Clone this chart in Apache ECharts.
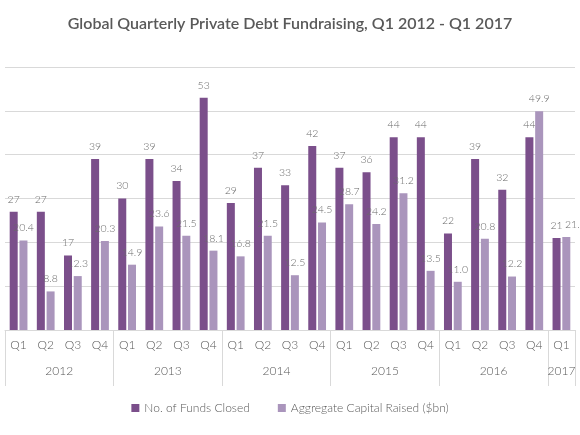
<!DOCTYPE html>
<html><head><meta charset="utf-8">
<script src="https://cdn.jsdelivr.net/npm/echarts@6/dist/echarts.min.js"></script>
<style>html,body{margin:0;padding:0;background:#fff}#c{width:580px;height:435px}</style>
</head><body><div id="c"></div>
<script>
var quarters = ['Q1','Q2','Q3','Q4','Q1','Q2','Q3','Q4','Q1','Q2','Q3','Q4','Q1','Q2','Q3','Q4','Q1','Q2','Q3','Q4','Q1'];
var years = ['2012','2013','2014','2015','2016','2017'];
var yearCenters = [2, 6, 10, 14, 18, 20.5];
var yearBounds = [0, 4, 8, 12, 16, 20, 21];
var fundsClosed = [27,27,17,39, 30,39,34,53, 29,37,33,42, 37,36,44,44, 22,39,32,44, 21];
var capitalRaised = [20.4,8.8,12.3,20.3, 14.9,23.6,21.5,18.1, 16.8,21.5,12.5,24.5, 28.7,24.2,31.2,13.5, 11.0,20.8,12.2,49.9, 21.2];

var font = 'Lato';
var txt = '#595959';
var lbl = '#6a6a6a';
var capData = capitalRaised.map(function (v, i) {
  return i === capitalRaised.length - 1 ? {value: v, label: {offset: [9, 0]}} : v;
});
var chart = echarts.init(document.getElementById('c'));
chart.setOption({
  animation: false,
  title: {
    text: 'Global Quarterly Private Debt Fundraising, Q1 2012 - Q1 2017',
    left: 'center', top: 11,
    textStyle: {fontFamily: font, fontSize: 16, fontWeight: 600, color: txt}
  },
  legend: {
    bottom: 16, left: 'center', itemWidth: 8, itemHeight: 8, itemGap: 28,
    icon: 'rect',
    textStyle: {fontFamily: font, fontSize: 12, fontWeight: 300, color: txt}
  },
  grid: {left: 5, right: 5, top: 67, bottom: 105, containLabel: false},
  xAxis: [{
    type: 'category', data: quarters, position: 'bottom',
    axisLine: {show: true, lineStyle: {color: '#d9d9d9', width: 1}},
    axisTick: {show: false},
    axisLabel: {fontFamily: font, fontSize: 12, fontWeight: 300, color: txt, margin: 9, interval: 0}
  }, {
    type: 'value', min: 0, max: 21, position: 'bottom',
    axisLine: {show: false},
    splitLine: {show: false},
    axisTick: {show: true, customValues: yearBounds, length: 56, lineStyle: {color: '#d9d9d9', width: 1}},
    axisLabel: {
      customValues: yearCenters, fontFamily: font, fontSize: 12, fontWeight: 300, color: txt, margin: 35,
      formatter: function (v) { var i = yearCenters.indexOf(v); return i >= 0 ? years[i] : ''; }
    }
  }],
  yAxis: {
    type: 'value', min: 0, max: 60, interval: 10,
    axisLabel: {show: false}, axisLine: {show: false}, axisTick: {show: false},
    splitLine: {lineStyle: {color: '#d9d9d9', width: 1}}
  },
  series: [{
    name: 'No. of Funds Closed', type: 'bar', data: fundsClosed, xAxisIndex: 0,
    barWidth: 8, barGap: '22%', z: 2,
    itemStyle: {color: '#7b4f8b'},
    label: {show: true, position: 'top', distance: 7, fontFamily: font, fontSize: 10.5, fontWeight: 300, color: lbl}
  }, {
    name: 'Aggregate Capital Raised ($bn)', type: 'bar', data: capData, xAxisIndex: 0,
    barWidth: 8, z: 4,
    itemStyle: {color: '#aa95bc'},
    label: {show: true, position: 'top', distance: 7, fontFamily: font, fontSize: 10.5, fontWeight: 300, color: lbl,
      formatter: function (p) { return p.value.toFixed(1); }}
  }]
});
</script></body></html>
